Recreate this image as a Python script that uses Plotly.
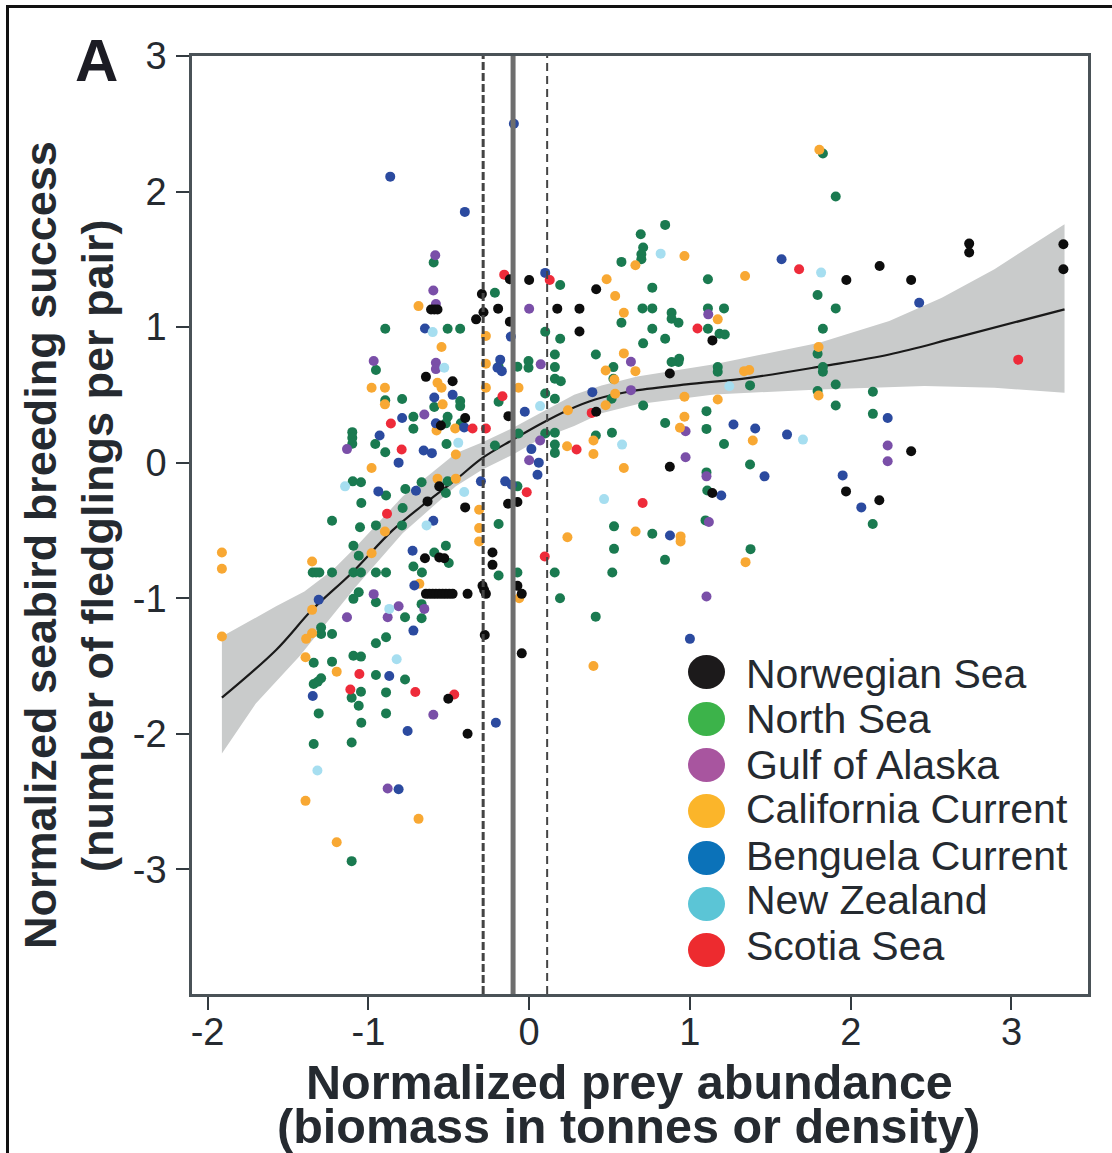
import plotly.graph_objects as go

# Scatter data by region
norw_x = [-0.12,0,-0.294,-0.61,-0.59,-0.57,-0.284,-0.193,-0.33,-0.12,-0.642,-0.476,-0.398,-0.549,-0.129,
          -0.559,-0.632,-0.398,-0.131,-0.073,-0.648,-0.559,-0.528,-0.228,-0.228,
          -0.642,-0.621,-0.60,-0.58,-0.559,-0.538,-0.518,-0.497,-0.476,-0.383,-0.29,-0.269,-0.28,-0.073,-0.046,-0.276,-0.046,-0.503,-0.383,
          0.417,0.175,0.313,0.313,1.14,0.875,0.417,1.973,2.18,2.376,2.737,2.737,3.323,3.323,2.376,0.875,1.139,1.971,2.178]
norw_y = [1.353,1.348,1.244,1.13,1.13,1.13,1.11,1.136,1.057,1.04,0.633,0.601,0.33,0.274,0.343,
          -0.175,-0.286,-0.33,-0.303,-0.29,-0.705,-0.70,-0.705,-0.663,-0.754,
          -0.968,-0.968,-0.968,-0.968,-0.968,-0.968,-0.968,-0.968,-0.968,-0.968,-0.909,-0.968,-0.94,-0.909,-0.968,-1.271,-1.407,-1.742,-2.0,
          1.279,1.136,1.136,0.968,0.902,0.658,0.375,1.348,1.451,1.348,1.616,1.55,1.611,1.427,0.084,-0.03,-0.224,-0.212,-0.278]

nsea_x = [-0.594,-0.213,-0.895,-0.507,-0.429,0.10,-0.953,-0.19,-0.073,-0.004,-0.004,-0.79,-0.895,-0.59,-0.429,-0.429,-0.19,0.10,-0.72,-0.72,-0.507,-0.518,-0.425,-1.10,-1.10,-1.10,-0.957,-0.895,-0.514,-0.213,-0.066,0.10,
          -1.097,-1.046,-0.89,-0.77,-0.669,-0.507,-0.518,-0.073,-1.044,-0.787,-1.226,-1.052,-0.953,-0.791,-0.19,-1.093,-0.518,-1.06,-0.59,-0.50,-0.72,
          -1.346,-1.325,-1.305,-1.226,-1.093,-1.046,-0.953,-0.89,-0.667,-0.19,-0.073,0.159,
          -1.06,-1.093,-0.953,-0.669,-0.772,-0.669,0.192,-1.294,-1.294,-1.226,-0.89,-0.953,-1.093,-1.046,-1.34,-1.226,-0.953,-0.772,-1.294,-1.315,-1.34,-1.046,-0.89,-1.104,-1.06,-1.309,-0.89,-1.044,-1.34,-1.104,-1.104,
          1.827,1.907,0.846,0.694,0.709,0.698,0.698,0.574,1.112,0.193,0.766,1.794,0.705,0.766,0.886,0.886,0.929,1.112,1.212,1.907,0.574,0.766,1.112,1.184,1.217,1.827,0.193,0.846,0.709,0.16,0.415,1.794,0.933,0.929,0.886,0.16,0.524,1.173,1.173,1.827,1.827,0.16,0.197,0.524,1.374,1.907,2.138,1.794,0.16,0.513,0.709,1.907,1.103,2.138,0.846,1.103,0.515,0.415,0.16,0.16,0.16,1.212,1.374,
          1.103,1.108,1.097,0.528,0.766,0.528,1.377,0.845,0.517,0.414,2.137]
nsea_y = [1.476,1.254,0.988,0.988,0.988,0.966,0.683,0.707,0.707,0.749,0.70,0.47,0.46,0.41,0.454,0.417,0.449,0.51,0.338,0.25,0.338,0.29,0.29,0.225,0.183,0.14,0.138,0.077,0.138,0.126,0.215,0.215,
          -0.138,-0.145,-0.242,-0.195,-0.145,-0.138,-0.224,-0.175,-0.298,-0.335,-0.429,-0.476,-0.463,-0.463,-0.453,-0.613,-0.613,-0.687,-0.663,-0.74,-0.766,
          -0.81,-0.81,-0.81,-0.81,-0.81,-0.81,-0.81,-0.81,-0.81,-0.833,-0.81,-0.81,
          -0.956,-1.005,-1.03,-1.044,-1.14,-1.148,-1.0,-1.217,-1.264,-1.264,-1.288,-1.333,-1.424,-1.431,-1.476,-1.468,-1.567,-1.6,-1.591,-1.616,-1.633,-1.69,-1.695,-1.734,-1.793,-1.85,-1.85,-1.919,-2.076,-2.064,-2.94,
          2.281,1.963,1.754,1.685,1.587,1.537,1.50,1.481,1.353,1.311,1.291,1.237,1.138,1.138,1.106,1.062,1.032,1.138,1.138,1.138,1.032,0.988,0.988,0.951,0.946,0.988,0.914,0.914,0.88,0.798,0.798,0.803,0.766,0.742,0.742,0.705,0.705,0.705,0.67,0.705,0.67,0.619,0.601,0.619,0.57,0.577,0.523,0.528,0.471,0.471,0.422,0.422,0.38,0.36,0.293,0.249,0.22,0.20,0.133,0.072,0.22,0.138,-0.014,
          -0.072,-0.205,-0.426,-0.47,-0.525,-0.636,-0.638,-0.717,-0.81,-1.136,-0.453]

goa_x = [-0.584,-0.596,-0.58,0.0,-0.967,-0.58,-0.58,0.072,-0.652,-1.133,0.068,0,
         -0.967,-0.812,-0.652,-1.133,-0.88,-0.596,-0.88,
         1.114,0.633,0.633,0.973,0.973,2.23,2.23,1.103,1.118,1.103]
goa_y = [1.53,1.27,1.17,1.135,0.75,0.737,0.69,0.725,0.355,0.10,0.163,0.018,
         -0.97,-1.06,-1.079,-1.14,-1.14,-1.86,-2.404,
         1.094,0.744,0.535,0.232,0.04,0.126,0.01,-0.101,-0.438,-0.988]

cal_x = [-0.688,-0.269,-0.545,-0.269,-0.98,-0.897,-0.57,-0.545,-0.269,-0.066,-0.897,-0.538,-0.576,-0.46,-0.456,-0.98,
         -1.911,-1.911,-1.911,-0.57,-0.456,-0.311,-0.311,-0.311,-0.897,-0.98,-1.35,-0.683,-0.062,-1.35,-1.35,-1.387,-1.391,-1.197,-1.391,-0.688,-1.197,0.238,
         1.805,0.966,0.661,0.482,1.343,0.535,0.589,1.173,0.589,0.476,0.661,0.53,1.369,1.337,1.80,0.535,0.476,0.241,0.966,1.173,1.80,0.966,0.938,0.40,1.391,0.236,0.40,0.589,
         0.662,0.942,0.942,1.346,0.40]
cal_y = [1.155,0.934,0.853,0.73,0.552,0.552,0.59,0.552,0.552,0.552,0.43,0.43,0.237,0.252,0.06,-0.04,
         -0.663,-0.783,-1.283,-0.118,-0.118,-0.347,-0.483,-0.581,-0.508,-0.668,-0.729,-0.894,-1.0,-1.086,-1.259,-1.30,-1.436,-1.542,-2.495,-2.628,-2.80,-0.55,
         2.308,1.525,1.456,1.353,1.377,1.229,1.106,1.057,0.806,0.68,0.675,0.614,0.683,0.675,0.853,0.508,0.424,0.387,0.486,0.466,0.495,0.338,0.257,0.163,0.163,0.121,0.064,-0.04,
         -0.508,-0.544,-0.581,-0.734,-1.5]

ben_x = [-0.864,-0.40,0.10,-0.648,-0.114,-0.18,-0.197,-0.17,-0.59,-0.476,-0.79,-0.58,-0.404,-0.93,-0.656,-0.605,-0.027,0.014,0.06,-0.812,
         -0.30,-0.149,-0.108,0.052,-0.938,-0.704,-0.596,-0.725,-0.714,-1.309,-0.72,-0.87,-1.346,-0.756,-0.207,-0.812,
         0.393,1.57,2.426,1.271,1.406,1.604,2.23,1.464,1.95,2.066,1.195,0.876,1.0,-0.095]
ben_y = [2.11,1.85,1.40,0.99,0.93,0.76,0.70,0.675,0.48,0.50,0.33,0.29,0.26,0.20,0.09,0.07,0.375,0.10,0.0,0.0,
         -0.138,-0.138,-0.163,-0.089,-0.212,-0.207,-0.429,-0.65,-0.906,-1.012,-1.239,-1.574,-1.722,-1.98,-1.919,-2.409,
         0.52,1.50,1.18,0.281,0.252,0.207,0.33,-0.101,-0.094,-0.33,-0.242,-0.537,-1.30,2.50]

nz_x = [-0.60,-0.528,0.068,-0.441,-1.145,-0.404,-0.638,-0.87,-0.824,-1.317,0.818,1.816,1.245,0.578,1.703,0.466]
nz_y = [0.963,0.70,0.417,0.146,-0.175,-0.217,-0.463,-1.079,-1.451,-2.271,1.542,1.402,0.564,0.133,0.17,-0.269]

sco_x = [-0.155,0.128,-0.166,-0.86,-0.352,-0.269,-0.793,-0.884,-0.015,0.097,-1.056,-1.112,-0.708,-0.466,1.679,1.047,3.042,0.389,0.295,0.706]
sco_y = [1.387,1.348,0.49,0.289,0.252,0.252,0.097,-0.377,-0.219,-0.692,-1.559,-1.673,-1.692,-1.71,1.427,0.99,0.76,0.367,0.097,-0.298]

# Fitted curve and confidence band
fit_x = [-1.911,-1.574,-1.35,-1.1,-0.85,-0.632,-0.45,-0.29,-0.10,0.062,0.24,0.41,0.633,0.977,1.369,1.827,2.24,2.655,3.33]
fit_y = [-1.734,-1.382,-1.086,-0.81,-0.50,-0.286,-0.12,0.035,0.17,0.28,0.387,0.466,0.527,0.577,0.626,0.712,0.798,0.922,1.131]
upper_x = [-1.911,-1.574,-1.398,-1.22,-1.077,-0.787,-0.456,-0.29,-0.10,0.062,0.28,0.45,0.672,1.151,1.805,2.24,2.567,2.894,3.33]
upper_y = [-1.283,-1.06,-0.95,-0.79,-0.62,-0.25,0.07,0.15,0.257,0.36,0.50,0.57,0.635,0.725,0.885,1.045,1.217,1.427,1.759]
lower_x = [-1.911,-1.70,-1.43,-1.077,-0.787,-0.456,-0.29,-0.10,0.062,0.28,0.45,0.672,1.151,1.805,2.459,2.894,3.33]
lower_y = [-2.146,-1.776,-1.43,-0.914,-0.52,-0.175,-0.05,0.06,0.17,0.27,0.365,0.43,0.503,0.54,0.565,0.552,0.515]

thresholds = [-0.286, -0.10, 0.112]
x_ticks = [-2, -1, 0, 1, 2, 3]
y_ticks = [-3, -2, -1, 0, 1, 2, 3]
legend_names = ["Norwegian Sea", "North Sea", "Gulf of Alaska", "California Current", "Benguela Current", "New Zealand", "Scotia Sea"]
legend_colors = ["#1c1a1b", "#3cb34a", "#a8559f", "#fbb52a", "#0b72b9", "#5bc5d6", "#ed2b2f"]
FONT = "Liberation Sans"
INK = "#252a30"
W, H = 1112, 1153
L, R, T, B = 192, 1088, 56, 994
px = lambda v: (v - L) / (R - L)
py = lambda v: (B - v) / (B - T)

fig = go.Figure()
fig.add_trace(go.Scatter(x=upper_x + lower_x[::-1], y=upper_y + lower_y[::-1], mode="lines", fill="toself",
                         fillcolor="#c9cbcb", line=dict(width=0), showlegend=False, hoverinfo="skip"))
fig.add_trace(go.Scatter(x=fit_x, y=fit_y, mode="lines", line=dict(color="#1a1a1a", width=2.2, shape="spline", smoothing=1), showlegend=False))
series = [(nsea_x, nsea_y, "#1a7a50", "North Sea"), (goa_x, goa_y, "#7a4fa8", "Gulf of Alaska"), (cal_x, cal_y, "#f8a833", "California Current"),
          (ben_x, ben_y, "#2b4a9f", "Benguela Current"), (nz_x, nz_y, "#a6def0", "New Zealand"),
          (sco_x, sco_y, "#ee2b3a", "Scotia Sea"), (norw_x, norw_y, "#0d0d0d", "Norwegian Sea")]
for xs, ys, c, n in series:
    fig.add_trace(go.Scatter(x=xs, y=ys, mode="markers", name=n, showlegend=False, marker=dict(color=c, size=10, line=dict(width=0))))

shapes = []
for t, st in zip(thresholds, [dict(color="#444", width=3, dash="8px,3px"), dict(color="#6e6e6e", width=5), dict(color="#444", width=2, dash="8px,5px")]):
    shapes.append(dict(type="line", xref="x", yref="paper", x0=t, x1=t, y0=0, y1=1, line=st, layer="above"))
# picture border: left and top edges only
shapes.append(dict(type="line", xref="paper", yref="paper", x0=px(7.5), x1=px(7.5), y0=py(6), y1=py(1153), line=dict(color="#111", width=3), layer="below"))
shapes.append(dict(type="line", xref="paper", yref="paper", x0=px(6), x1=px(1112), y0=py(6.5), y1=py(6.5), line=dict(color="#111", width=3), layer="below"))
anns = []
circle_y = [672, 719, 765, 811, 858, 904, 950]
label_y = [674, 719, 765, 809, 856, 900, 946]
for n, c, cy, ly in zip(legend_names, legend_colors, circle_y, label_y):
    shapes.append(dict(type="circle", xref="paper", yref="paper", x0=px(688), x1=px(725), y0=py(cy + 17), y1=py(cy - 17), fillcolor=c, line=dict(width=0), layer="above"))
    anns.append(dict(xref="paper", yref="paper", x=px(744), y=py(ly), text=n, showarrow=False, xanchor="left", yanchor="middle", font=dict(family=FONT, size=41, color=INK)))
anns += [
    dict(xref="paper", yref="paper", x=px(96), y=py(60), text="<b>A</b>", showarrow=False, font=dict(family=FONT, size=60, color="#1c1c24"), xanchor="center", yanchor="middle"),
    dict(xref="paper", yref="paper", x=px(629), y=py(1082), text="<b>Normalized prey abundance</b>", showarrow=False, font=dict(family=FONT, size=48.5, color=INK), xanchor="center", yanchor="middle"),
    dict(xref="paper", yref="paper", x=px(628), y=py(1126), text="<b>(biomass in tonnes or density)</b>", showarrow=False, font=dict(family=FONT, size=48.5, color=INK), xanchor="center", yanchor="middle"),
    dict(xref="paper", yref="paper", x=px(40), y=py(545), text="<b>Normalized seabird breeding success</b>", textangle=-90, showarrow=False, font=dict(family=FONT, size=45, color=INK), xanchor="center", yanchor="middle"),
    dict(xref="paper", yref="paper", x=px(97), y=py(546), text="<b>(number of fledglings per pair)</b>", textangle=-90, showarrow=False, font=dict(family=FONT, size=45, color=INK), xanchor="center", yanchor="middle"),
]

axis = dict(showgrid=False, zeroline=False, showline=True, mirror=True, linecolor="#4a5257", linewidth=2.5, ticks="outside", ticklen=13, tickwidth=2,
            tickcolor="#333a40", tickfont=dict(family=FONT, size=38, color=INK))
fig.update_layout(width=W, height=H, margin=dict(l=L, r=W - R, t=T, b=H - B), plot_bgcolor="white", paper_bgcolor="white", showlegend=False,
                  shapes=shapes, annotations=anns,
                  xaxis=dict(axis, range=[-2.097, 3.476], tickmode="array", tickvals=x_ticks, ticktext=[str(v) for v in x_ticks], ticklabelstandoff=-10),
                  yaxis=dict(axis, range=[-3.92, 3.0], tickmode="array", tickvals=y_ticks, ticktext=[str(v) for v in y_ticks], ticklabelstandoff=2))
fig.write_html("out.html", config=dict(displayModeBar=False), post_script="document.body.style.margin='0';document.documentElement.style.overflow='hidden';")
